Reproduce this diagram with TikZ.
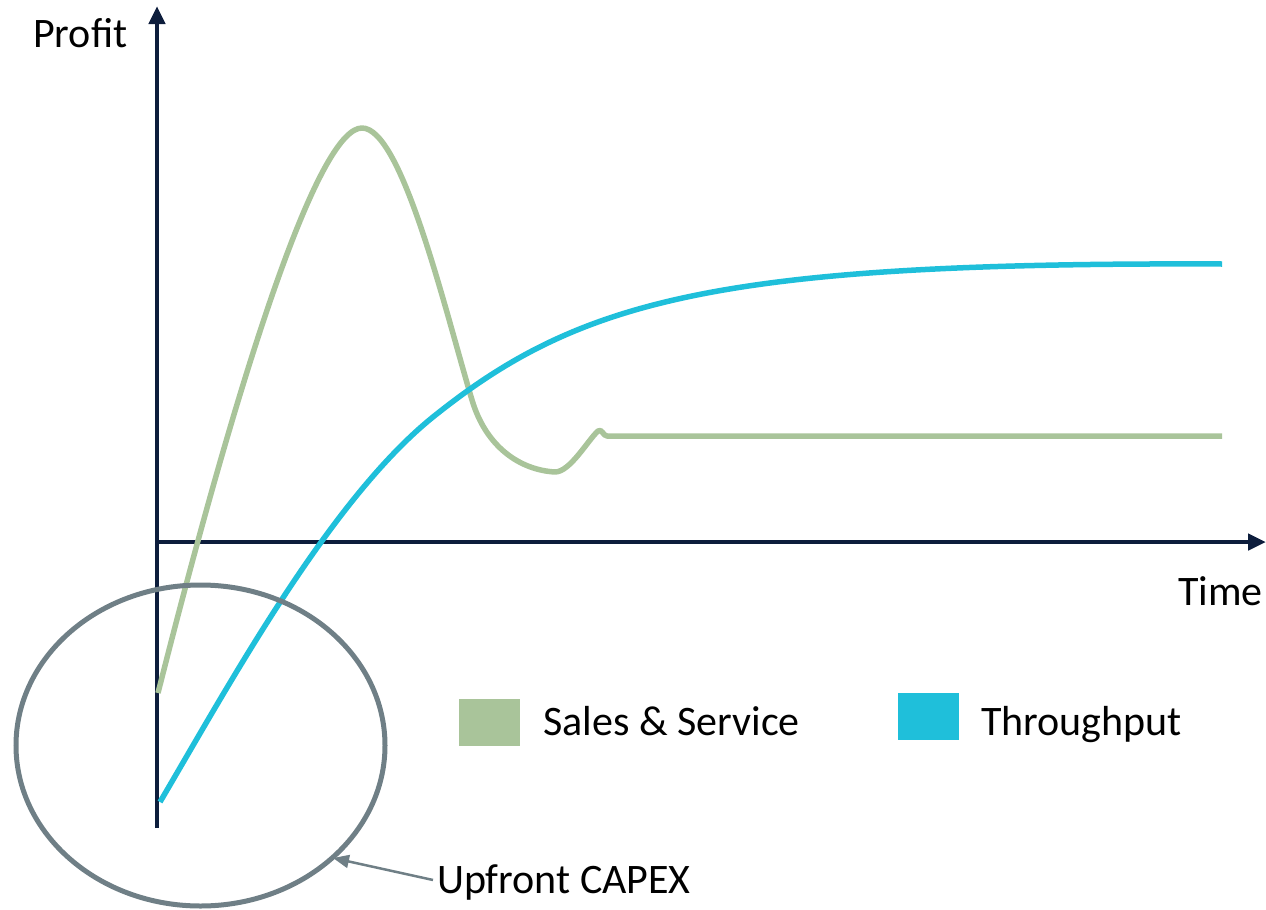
\documentclass[tikz,border=0pt]{standalone}
\usepackage{fontspec}
\setmainfont{Carlito}
\usetikzlibrary{arrows.meta,shapes.geometric}
\definecolor{axisnavy}{HTML}{0D1D3C}
\definecolor{salesgreen}{HTML}{A9C49A}
\definecolor{thrublue}{HTML}{1FBFDA}
\definecolor{capexgrey}{HTML}{6F7F86}
\tikzset{
  axisline/.style={draw=axisnavy,line width=4.5pt,-{Triangle[length=18pt,width=16pt]}},
  curve/.style={line width=5.5pt,line join=round},
  lbl/.style={font=\fontsize{42}{48}\selectfont,text=black,inner sep=0pt,anchor=base west},
  legbox/.style={minimum width=61pt,minimum height=47pt,inner sep=0pt,draw=none}
}
\begin{document}
\begin{tikzpicture}[x=1pt,y=-1pt]
\useasboundingbox (0,0) rectangle (1266,910);
% axes
\coordinate (ybot) at (157,828);
\coordinate (ytop) at (157,6);
\coordinate (xl) at (157,542);
\coordinate (xr) at (1266,542);
\draw[axisline] (ybot) -- (ytop);
\draw[axisline] (xl) -- (xr);
% curves
\draw[curve,salesgreen] (158,693) .. controls (250,330) and (322,128) .. (362,128)
  .. controls (402,128) and (445,310) .. (472,400)
  .. controls (486,447) and (520,470) .. (555,472)
  .. controls (570,472) and (588,440) .. (598,431)
  .. controls (602,428) and (603,436) .. (607,436) -- (1222,436);
\draw[curve,thrublue] (160,802) .. controls (230,683) and (330,500) .. (433,417)
  .. controls (580,299) and (720,262) .. (1222,264);
% ellipse
\node[ellipse,draw=capexgrey,line width=5pt,minimum width=369pt,minimum height=321pt,inner sep=0pt] (ell) at (200.5,745.5) {};
% labels
\node[lbl] (profit) at (33,47) {Profit};
\node[lbl] (time) at (1178,605) {Time};
\node[legbox,fill=salesgreen] (gbox) at (489.5,722.5) {};
\node[lbl] (glab) at (543,735) {Sales \& Service};
\node[legbox,fill=thrublue] (bbox) at (928,716.5) {};
\node[lbl] (blab) at (981,735) {Throughput};
\node[lbl] (capex) at (437,893) {Upfront CAPEX};
\coordinate (tip) at (333,858);
\draw[capexgrey,line width=2.5pt,-{Triangle[length=16pt,width=13pt]}] (capex.west) ++(-4,-2) -- (tip);
\end{tikzpicture}
\end{document}
